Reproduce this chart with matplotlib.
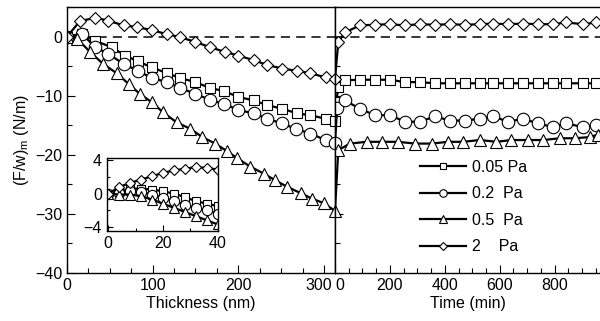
import matplotlib.pyplot as plt
from matplotlib.ticker import MultipleLocator
from matplotlib.transforms import ScaledTranslation

plt.rcParams['font.family'] = ['Liberation Sans', 'DejaVu Sans']
plt.rcParams['font.size'] = 11.5

# Panel izquierdo: espesor (nm)
th_sq = [0, 17, 33, 52, 68, 83, 99, 117, 132, 150, 167, 183, 200, 218, 234, 251, 269, 284, 302, 313]
f_sq = [0, 0.4, -0.7, -1.8, -3.2, -4.2, -5.2, -6.2, -7.0, -7.7, -8.7, -9.2, -10.2, -10.8, -11.6, -12.2, -13.0, -13.3, -13.9, -14.2]
th_ci = [0, 18, 33, 48, 66, 83, 99, 117, 132, 150, 167, 183, 200, 218, 234, 251, 267, 284, 302, 313]
f_ci = [0, 0.4, -1.8, -2.9, -4.6, -5.8, -7.0, -7.7, -8.7, -9.7, -10.7, -11.4, -12.4, -13.0, -13.9, -14.7, -15.6, -16.4, -17.5, -18.0]
th_tr = [0, 12, 27, 42, 58, 72, 85, 99, 112, 128, 144, 158, 173, 187, 199, 214, 230, 243, 257, 273, 286, 300, 313]
f_tr = [0, -0.4, -2.6, -4.6, -6.2, -8.0, -9.7, -11.1, -12.8, -14.5, -15.6, -17.0, -18.1, -19.4, -20.6, -22.0, -23.2, -24.3, -25.4, -26.5, -27.4, -28.2, -29.5]
th_di = [0, 15, 33, 48, 66, 82, 99, 117, 132, 150, 167, 185, 200, 218, 234, 251, 269, 284, 302, 313]
f_di = [0, 2.6, 3.2, 2.7, 1.9, 1.6, 1.1, 0.4, -0.1, -0.9, -1.8, -2.6, -3.2, -4.0, -4.8, -5.4, -5.8, -6.2, -6.9, -7.2]

# Panel derecho: tiempo (min)
t_sq = [0, 5, 12, 36, 91, 145, 200, 255, 309, 364, 418, 473, 527, 576, 630, 685, 739, 794, 842, 903, 952]
g_sq = [-14.2, -11.0, -8.5, -7.4, -7.3, -7.3, -7.3, -7.7, -7.7, -7.9, -7.9, -7.9, -7.9, -7.9, -7.9, -7.9, -7.9, -7.9, -7.9, -7.9, -7.9]
t_ci = [0, 8, 36, 91, 145, 200, 255, 309, 364, 418, 473, 527, 576, 630, 685, 739, 794, 842, 903, 952]
g_ci = [-18.0, -12.0, -10.8, -12.2, -13.3, -13.3, -14.4, -14.4, -13.5, -14.2, -14.2, -13.9, -13.5, -14.4, -13.9, -14.7, -15.3, -14.7, -15.3, -15.0]
t_tr = [0, 12, 55, 115, 170, 230, 291, 352, 412, 467, 527, 588, 642, 703, 758, 818, 873, 927, 956]
g_tr = [-29.5, -19.2, -18.1, -17.8, -17.8, -17.8, -18.1, -18.1, -17.8, -17.8, -17.5, -17.8, -17.5, -17.5, -17.5, -17.2, -17.2, -17.0, -16.6]
t_di = [0, 12, 36, 91, 145, 200, 255, 309, 364, 418, 473, 527, 576, 630, 685, 739, 794, 842, 903, 952]
g_di = [-7.2, -0.9, 0.7, 1.9, 2.0, 2.1, 1.9, 2.1, 2.0, 2.1, 2.0, 2.1, 2.2, 2.1, 2.2, 2.1, 2.1, 2.4, 2.1, 2.4]

# Inset (0 - 40 nm)
in_sq_x = [0, 4, 8, 12, 16, 20, 24, 28, 32, 36, 40]
in_sq_y = [0, 0.3, 0.6, 0.6, 0.5, 0.3, 0.0, -0.4, -0.9, -1.2, -1.5]
in_ci_x = [0, 4, 8, 12, 16, 20, 24, 28, 32, 36, 40]
in_ci_y = [0, 0.1, 0.3, 0.2, -0.1, -0.5, -0.9, -1.3, -1.7, -2.0, -2.4]
in_tr_x = [0, 4, 8, 12, 16, 20, 24, 28, 32, 36, 40]
in_tr_y = [0, -0.1, -0.1, -0.3, -0.7, -1.2, -1.7, -2.2, -2.7, -3.2, -3.7]
in_di_x = [0, 4, 8, 12, 16, 20, 24, 28, 32, 36, 40]
in_di_y = [0, 0.8, 1.3, 1.7, 2.1, 2.5, 2.8, 3.0, 3.2, 3.1, 2.9]

series = [('s', 7, '0.05 Pa'), ('o', 9, '0.2  Pa'), ('^', 8.5, '0.5  Pa'), ('D', 7, '2    Pa')]
left_data = [(th_sq, f_sq), (th_ci, f_ci), (th_tr, f_tr), (th_di, f_di)]
right_data = [(t_sq, g_sq), (t_ci, g_ci), (t_tr, g_tr), (t_di, g_di)]
inset_data = [(in_sq_x, in_sq_y), (in_ci_x, in_ci_y), (in_tr_x, in_tr_y), (in_di_x, in_di_y)]

fig = plt.figure(figsize=(6.0, 3.21), dpi=100)
ax1 = fig.add_axes([0.1117, 0.1495, 0.4467, 0.8285])
ax2 = fig.add_axes([0.5583, 0.1495, 0.4417, 0.8285], sharey=ax1)
ax3 = fig.add_axes([0.178, 0.280, 0.185, 0.228])


def curvas(ax, datos, ms_esc=1.0):
    for (m, ms, lab), (x, y) in zip(series, datos):
        if m == 'D':
            ms = ms * 0.9
        ax.plot(x, y, color='black', lw=1.6, marker=m, ms=ms * ms_esc,
                mfc='white', mec='black', mew=0.8, label=lab)


curvas(ax1, left_data)
curvas(ax2, right_data)
curvas(ax3, inset_data, 0.82)

for ax in (ax1, ax2):
    ax.axhline(0, color='black', lw=1.1, ls=(0, (6, 4)), zorder=0)
    ax.tick_params(which='both', direction='in', labelsize=11.5)
    ax.tick_params(which='major', length=6, width=0.8)
    ax.tick_params(which='minor', length=3.5, width=0.8)

ax1.set_xlim(0, 313)
ax1.set_ylim(-40, 5)
ax1.xaxis.set_major_locator(MultipleLocator(100))
ax1.xaxis.set_minor_locator(MultipleLocator(25))
ax1.yaxis.set_major_locator(MultipleLocator(10))
ax1.yaxis.set_minor_locator(MultipleLocator(5))
ax1.set_xlabel('Thickness (nm)', labelpad=2)
ax1.set_ylabel('(F/w)$_\\mathregular{m}$ (N/m)', labelpad=3)

ax2.set_xlim(0, 965)
ax2.xaxis.set_major_locator(MultipleLocator(200))
ax2.xaxis.set_minor_locator(MultipleLocator(50))
ax2.spines['right'].set_visible(False)
ax2.tick_params(axis='y', labelleft=False)
ax2.set_xlabel('Time (min)', labelpad=2)
ax2.legend(loc='upper left', bbox_to_anchor=(0.297, 0.45), frameon=False,
           handlelength=2.9, handletextpad=0.35, labelspacing=0.72,
           markerscale=0.6, fontsize=11.5, borderaxespad=0)

ax3.set_xlim(-0.5, 40)
ax3.set_ylim(-4.5, 4.3)
ax3.xaxis.set_major_locator(MultipleLocator(20))
ax3.xaxis.set_minor_locator(MultipleLocator(10))
ax3.yaxis.set_major_locator(MultipleLocator(4))
ax3.yaxis.set_minor_locator(MultipleLocator(2))
ax3.tick_params(which='both', direction='in', labelsize=11.5, width=0.8)
ax3.tick_params(which='major', length=4)
ax3.tick_params(which='minor', length=2.5)

for ax in (ax1, ax2, ax3):
    for s in ax.spines.values():
        s.set_linewidth(1.0)

# separar "300" y "0" en la union de los paneles
fig.canvas.draw()
for lab in ax1.get_xticklabels():
    if lab.get_text() == '300':
        lab.set_transform(lab.get_transform() + ScaledTranslation(-5 / 100, 0, fig.dpi_scale_trans))
for lab in ax2.get_xticklabels():
    if lab.get_text() == '0':
        lab.set_transform(lab.get_transform() + ScaledTranslation(5 / 100, 0, fig.dpi_scale_trans))

fig.savefig('out.png', dpi=100)
